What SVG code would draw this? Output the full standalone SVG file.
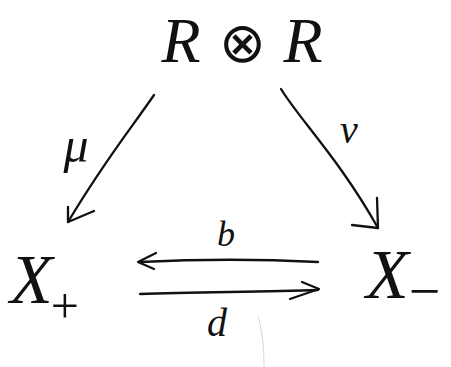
<svg xmlns="http://www.w3.org/2000/svg" width="451" height="367" viewBox="0 0 451 367">
<style>
.t{font-family:"Liberation Serif",serif;font-style:italic;fill:#111}
.c{fill:none;stroke:#111;stroke-width:2.3;stroke-linecap:round;stroke-linejoin:round}
</style>
<rect width="451" height="367" fill="#fff"/>
<g id="RR"><text class="t" x="242" y="62" font-size="64" text-anchor="middle">R<tspan font-style="normal" font-size="56" dx="18">⊗</tspan><tspan dx="18">R</tspan></text></g>
<g id="Xplus"><text class="t" x="10" y="303" font-size="70">X<tspan font-size="50" dy="20" dx="-2" font-style="normal">+</tspan></text></g>
<g id="Xminus"><text class="t" x="366" y="298" font-size="70">X<tspan font-size="56" dy="12" font-style="normal">−</tspan></text></g>
<g id="connectors">
<path class="c" d="M154,95 C130,130 105,160 68,222"/>
<path class="c" d="M68,207 L68,222 L94,211"/>
<path class="c" d="M281,89 C300,120 340,160 378,228"/>
<path class="c" d="M377,198 L378,228 L352,225"/>
<path class="c" d="M318,262 C260,259 200,259 140,262"/>
<path class="c" d="M156,253 L138,262 L154,269"/>
<path class="c" d="M140,294 C200,292 260,292 318,290"/>
<path class="c" d="M302,282 L319,289 L290,299"/>
<text class="t" x="76" y="162" font-size="50" text-anchor="middle">μ</text>
<text class="t" x="349" y="143" font-size="40" text-anchor="middle">ν</text>
<text class="t" x="226" y="246" font-size="36" text-anchor="middle">b</text>
<text class="t" x="217" y="336" font-size="40" text-anchor="middle">d</text>
<path d="M258,316 C262,330 264,345 264,367" fill="none" stroke="#ccc" stroke-width="0.8"/>
</g>
</svg>
